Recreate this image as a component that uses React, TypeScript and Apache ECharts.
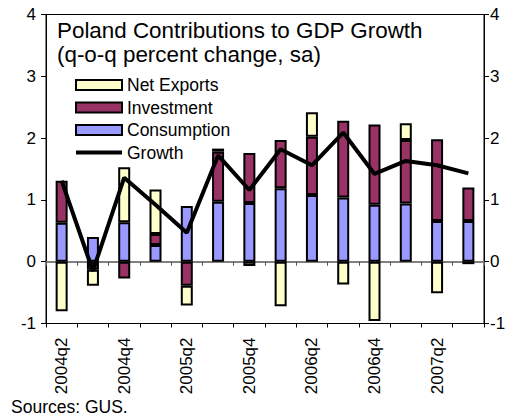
import React, { useEffect, useRef } from "react";
import * as echarts from "echarts";

const categories = [
  "2004q2", "2004q3", "2004q4", "2005q1", "2005q2", "2005q3", "2005q4",
  "2006q1", "2006q2", "2006q3", "2006q4", "2007q1", "2007q2", "2007q3",
];
const consumption = [0.63, 0.40, 0.64, 0.27, 0.90, 0.97, 0.95, 1.19, 1.08, 1.04, 0.92, 0.94, 0.66, 0.66];
const investment = [0.68, -0.13, -0.27, 0.18, -0.39, 0.81, 0.81, 0.78, 0.94, 1.24, 1.30, 1.03, 1.32, 0.54];
const netExports = [-0.80, -0.26, 0.89, 0.72, -0.32, 0.05, -0.07, -0.72, 0.40, -0.37, -0.96, 0.27, -0.51, -0.04];
const growth = [1.31, -0.15, 1.36, 0.92, 0.47, 1.72, 1.16, 1.82, 1.56, 2.09, 1.42, 1.63, 1.56, 1.43];

const titleLine1 = "Poland Contributions to GDP Growth";
const titleLine2 = "(q-o-q percent change, sa)";
const sourceText = "Sources: GUS.";

const FONT = "'Liberation Sans', Arial, sans-serif";

export default function App() {
  const ref = useRef<HTMLDivElement>(null);
  useEffect(() => {
    if (!ref.current) return;
    const chart = echarts.init(ref.current, undefined, { renderer: "svg" });
    const barBorder = { borderColor: "#000", borderWidth: 2 };
    const yCommon = {
      type: "value" as const,
      min: -1,
      max: 4,
      interval: 1,
      axisLine: { show: true, lineStyle: { color: "#000", width: 1 } },
      axisTick: { show: true, length: 5, lineStyle: { color: "#000" } },
      splitLine: { show: false },
    };
    chart.setOption({
      animation: false,
      backgroundColor: "#fff",
      textStyle: { fontFamily: FONT },
      title: {
        text: titleLine1 + "\n" + titleLine2,
        left: 57,
        top: 18,
        padding: 0,
        textStyle: { fontFamily: FONT, fontSize: 22.4, fontWeight: "normal", color: "#000", lineHeight: 24.5 },
      },
      legend: {
        orient: "vertical",
        left: 74,
        top: 76,
        padding: 0,
        itemWidth: 46,
        itemHeight: 10,
        itemGap: 4.5,
        itemTextGap: 5,
        textStyle: { fontFamily: FONT, fontSize: 17.5, color: "#000", lineHeight: 18 },
        data: [
          { name: "Net Exports", icon: "rect" },
          { name: "Investment", icon: "rect" },
          { name: "Consumption", icon: "rect" },
          { name: "Growth", itemStyle: { opacity: 0 }, lineStyle: { width: 4, color: "#000" } },
        ],
      },
      grid: {
        left: 46,
        top: 14.5,
        width: 438,
        height: 309,
        show: true,
        borderColor: "#000",
        borderWidth: 1,
        backgroundColor: "transparent",
      },
      xAxis: [
        {
          type: "category",
          data: categories,
          position: "bottom",
          axisLine: { show: true, onZero: false, lineStyle: { color: "#000", width: 1 } },
          axisTick: { show: true, interval: 0, length: 4, lineStyle: { color: "#000" } },
          axisLabel: {
            interval: 1,
            rotate: 90,
            margin: 14,
            fontSize: 17,
            fontFamily: FONT,
            color: "#000",
          },
          splitLine: { show: false },
        },
        {
          type: "category",
          data: categories,
          position: "bottom",
          axisLine: { show: true, onZero: true, lineStyle: { color: "#808080", width: 2 } },
          axisTick: { show: true, interval: 0, length: 4, lineStyle: { color: "#555" } },
          axisLabel: { show: false },
          splitLine: { show: false },
        },
      ],
      yAxis: [
        {
          ...yCommon,
          position: "left",
          axisLabel: { fontSize: 17, fontFamily: FONT, color: "#000", margin: 10 },
        },
        {
          ...yCommon,
          position: "right",
          axisLabel: { fontSize: 17, fontFamily: FONT, color: "#000", margin: 6 },
        },
      ],
      series: [
        {
          name: "Consumption",
          type: "bar",
          stack: "total",
          barWidth: 12,
          data: consumption,
          itemStyle: { color: "#9999FF", ...barBorder },
          z: 2,
        },
        {
          name: "Investment",
          type: "bar",
          stack: "total",
          barWidth: 12,
          data: investment,
          itemStyle: { color: "#993366", ...barBorder },
          z: 2,
        },
        {
          name: "Net Exports",
          type: "bar",
          stack: "total",
          barWidth: 12,
          data: netExports,
          itemStyle: { color: "#FFFFCC", ...barBorder },
          z: 2,
        },
        {
          name: "Growth",
          type: "line",
          data: growth,
          symbol: "none",
          showSymbol: false,
          lineStyle: { color: "#000", width: 4 },
          itemStyle: { color: "#000" },
          z: 5,
        },
      ],
      graphic: [
        {
          type: "text",
          left: 11,
          top: 398,
          style: { text: sourceText, fontFamily: FONT, fontSize: 17.5, fill: "#000" },
        },
      ],
    });
    return () => chart.dispose();
  }, []);
  return (
    <div
      ref={ref}
      style={{ position: "absolute", left: 0, top: 0, width: 511, height: 419 }}
    />
  );
}
